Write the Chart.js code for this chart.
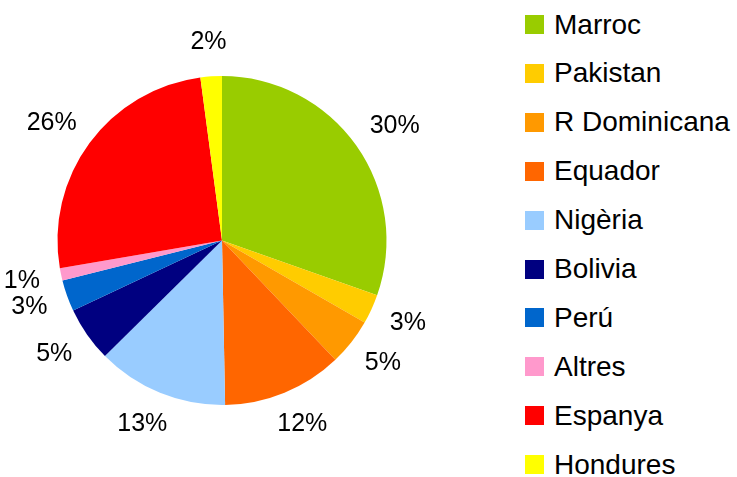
<!DOCTYPE html>
<html>
<head>
<meta charset="utf-8">
<script src="https://cdn.jsdelivr.net/npm/chart.js@4"></script>
<style>
  html, body { margin: 0; padding: 0; background: #fff; }
  #wrap { position: relative; width: 737px; height: 477px; }
  #pieBox { position: absolute; left: 0; top: 0; width: 444px; height: 477px; }
  #legend { position: absolute; left: 525px; top: 0; font-family: "Liberation Sans", Arial, sans-serif; font-size: 28px; color: #000; }
  .item { position: absolute; left: 0; height: 49px; display: flex; align-items: center; white-space: nowrap; }
  .sw { width: 19px; height: 19px; margin-right: 10px; flex: none; }
</style>
</head>
<body>
<div id="wrap">
  <div id="pieBox"><canvas id="pie"></canvas></div>
  <div id="legend"></div>
</div>
<script>
// dades llegides del gràfic (%)
const countries = ['Marroc', 'Pakistan', 'R Dominicana', 'Equador', 'Nigèria', 'Bolivia', 'Perú', 'Altres', 'Espanya', 'Hondures'];
const shares = [30.4, 2.9, 4.6, 11.8, 12.9, 5.4, 3.1, 1.2, 25.6, 2.1];
const colors = ['#99CC00', '#FFCC00', '#FF9900', '#FF6600', '#99CCFF', '#000080', '#0066CC', '#FF99CC', '#FF0000', '#FFFF00'];

// etiquetes de percentatge fora de cada porció
const outsideLabels = {
    id: 'outsideLabels',
    afterDatasetsDraw(chart) {
        const ctx = chart.ctx;
        const meta = chart.getDatasetMeta(0);
        const total = shares.reduce((a, b) => a + b, 0);
        ctx.save();
        ctx.font = '25px "Liberation Sans", Arial, sans-serif';
        ctx.fillStyle = '#000';
        ctx.textAlign = 'center';
        ctx.textBaseline = 'middle';
        meta.data.forEach((arc, i) => {
            const p = arc.getProps(['x', 'y', 'startAngle', 'endAngle', 'outerRadius'], true);
            const mid = (p.startAngle + p.endAngle) / 2;
            const txt = Math.round(shares[i] / total * 100) + '%';
            const w = ctx.measureText(txt).width;
            const h = 24;
            const r = p.outerRadius + 22;
            const ax = p.x + Math.cos(mid) * r;
            const ay = p.y + Math.sin(mid) * r;
            ctx.fillText(txt, ax + Math.cos(mid) * w / 2, ay + Math.sin(mid) * h / 2);
        });
        ctx.restore();
    }
};

const pieChart = new Chart(document.getElementById('pie').getContext('2d'), {
    type: 'pie',
    data: {
        labels: countries,
        datasets: [{
            data: shares,
            backgroundColor: colors,
            borderWidth: 0
        }]
    },
    options: {
        responsive: true,
        maintainAspectRatio: false,
        animation: false,
        layout: { padding: { top: 76, bottom: 72, left: 57, right: 57 } },
        plugins: {
            legend: { display: false },
            tooltip: { enabled: false }
        }
    },
    plugins: [outsideLabels]
});

// llegenda a la dreta
const legendBox = document.getElementById('legend');
countries.forEach((name, i) => {
    const item = document.createElement('div');
    item.className = 'item';
    item.style.top = (i * 48.9) + 'px';
    item.innerHTML = `<span class="sw" style="background:${colors[i]}"></span><span>${name}</span>`;
    legendBox.appendChild(item);
});
</script>
</body>
</html>
